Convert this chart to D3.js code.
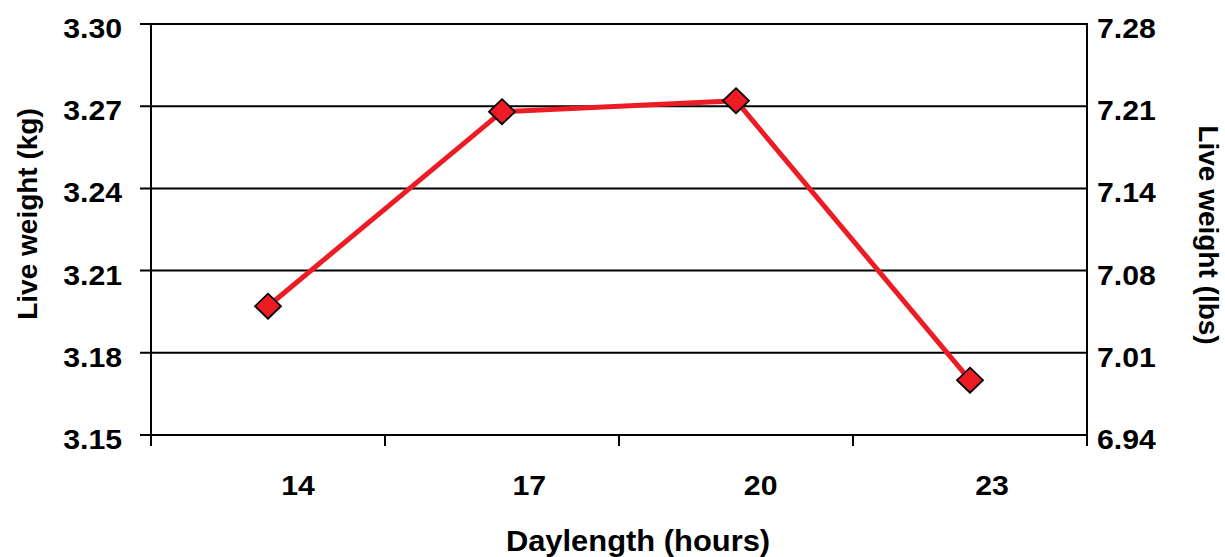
<!DOCTYPE html>
<html>
<head>
<meta charset="utf-8">
<script src="https://cdn.jsdelivr.net/npm/d3@7"></script>
<style>
  html, body { margin: 0; padding: 0; background: #fff; }
  svg { display: block; }
  text { font-family: "Liberation Sans", Arial, sans-serif; font-weight: bold; fill: #000; }
</style>
</head>
<body>
<svg id="chart" width="1225" height="557"></svg>
<script>
// Live weight by daylength
const categories = ["14", "17", "20", "23"];
const weightKg = [3.197, 3.268, 3.272, 3.170];
const kgTicks = [3.15, 3.18, 3.21, 3.24, 3.27, 3.30];
const lbsTickLabels = ["6.94", "7.01", "7.08", "7.14", "7.21", "7.28"];
const kgToLbs = 2.20462;

const svg = d3.select("#chart");
const m = { left: 151, right: 1087, top: 24, bottom: 435 };
const stretch = 1.08;   // labels are set slightly wide

const x = d3.scaleBand().domain(categories).range([m.left, m.right]);
const xLabel = d3.scalePoint().domain(categories).range([298, 992]);
const y = d3.scaleLinear().domain([3.15, 3.30]).range([m.bottom, m.top]);
const yLbs = d3.scaleLinear()
  .domain([3.15 * kgToLbs, 3.30 * kgToLbs])
  .range([m.bottom, m.top]);

// Horizontal gridlines, extending out as left ticks
svg.append("g")
  .selectAll("line")
  .data(kgTicks)
  .join("line")
  .attr("x1", m.left - 11)
  .attr("x2", m.right)
  .attr("y1", d => y(d))
  .attr("y2", d => y(d))
  .attr("stroke", "#000")
  .attr("stroke-width", 2);

function styleTickText(g, offset) {
  g.select(".domain").remove();
  g.selectAll("text")
    .attr("font-family", null)
    .style("font-size", "28px")
    .attr("x", 0)
    .attr("dy", "13.5px")
    .attr("transform", `translate(${offset},0) scale(${stretch},1)`);
}

// Left axis (kilograms)
svg.append("g")
  .attr("transform", `translate(${m.left},0)`)
  .call(d3.axisLeft(y).tickValues(kgTicks).tickFormat(d3.format(".2f")).tickSize(0))
  .call(g => styleTickText(g, -29));

// Right axis (pounds)
svg.append("g")
  .attr("transform", `translate(${m.right},0)`)
  .call(d3.axisRight(yLbs)
    .tickValues(kgTicks.map(v => v * kgToLbs))
    .tickFormat((d, i) => lbsTickLabels[i])
    .tickSize(0))
  .call(g => styleTickText(g, 10));

// Vertical axis lines
[m.left, m.right].forEach(px => {
  svg.append("line")
    .attr("x1", px).attr("x2", px)
    .attr("y1", m.top - 1).attr("y2", m.bottom + 11)
    .attr("stroke", "#000").attr("stroke-width", 2);
});

// Category boundary ticks on the bottom axis
svg.append("g")
  .selectAll("line")
  .data(categories.slice(1))
  .join("line")
  .attr("x1", d => x(d)).attr("x2", d => x(d))
  .attr("y1", m.bottom).attr("y2", m.bottom + 11)
  .attr("stroke", "#000").attr("stroke-width", 2);

// Category labels
svg.append("g")
  .selectAll("text")
  .data(categories)
  .join("text")
  .attr("transform", d => `translate(${xLabel(d)},495) scale(${stretch},1)`)
  .attr("text-anchor", "middle")
  .style("font-size", "28px")
  .text(d => d);

// Series line
const cx = (d, i) => x(categories[i]) + x.bandwidth() / 2;
const line = d3.line().x(cx).y(d => y(d));
svg.append("path")
  .datum(weightKg)
  .attr("d", line)
  .attr("fill", "none")
  .attr("stroke", "#ed1c24")
  .attr("stroke-width", 5)
  .attr("stroke-linejoin", "round");

// Diamond markers
svg.append("g")
  .selectAll("path")
  .data(weightKg)
  .join("path")
  .attr("transform", (d, i) => `translate(${cx(d, i)},${y(d)})`)
  .attr("d", "M0,-12.5 L13,0 L0,12.5 L-13,0 Z")
  .attr("fill", "#ed1c24")
  .attr("stroke", "#000")
  .attr("stroke-width", 1.8);

// Axis titles
svg.append("text")
  .attr("transform", "translate(37,214) rotate(-90)")
  .attr("text-anchor", "middle")
  .style("font-size", "28px")
  .text("Live weight (kg)");

svg.append("text")
  .attr("transform", "translate(1199,235) rotate(90)")
  .attr("text-anchor", "middle")
  .style("font-size", "28px")
  .text("Live weight (lbs)");

svg.append("text")
  .attr("transform", `translate(638,551) scale(1.03,1)`)
  .attr("text-anchor", "middle")
  .style("font-size", "30px")
  .text("Daylength (hours)");
</script>
</body>
</html>
